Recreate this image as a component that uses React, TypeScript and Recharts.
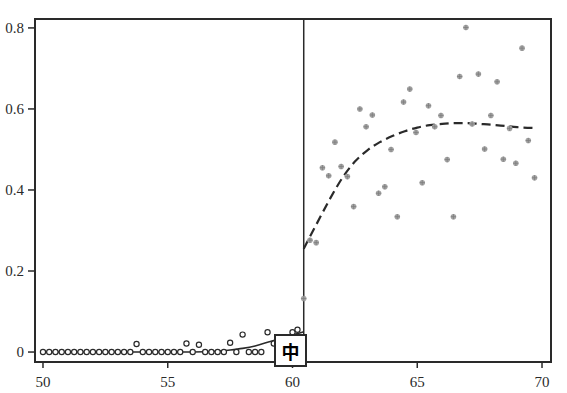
import React from "react";
import {
  ComposedChart, Line, Scatter, XAxis, YAxis, ReferenceLine, ReferenceArea,
} from "recharts";

// left of the cutoff: open circles near zero
const leftX = [
  50, 50.25, 50.5, 50.75, 51, 51.25, 51.5, 51.75, 52, 52.25, 52.5, 52.75, 53, 53.25, 53.5, 53.75,
  54, 54.25, 54.5, 54.75, 55, 55.25, 55.5, 55.75, 56, 56.25, 56.5, 56.75, 57, 57.25, 57.5, 57.75,
  58, 58.25, 58.5, 58.75, 59, 59.25, 59.5, 59.75, 60, 60.2,
];
const leftY = [
  0, 0, 0, 0, 0, 0, 0, 0, 0, 0, 0, 0, 0, 0, 0, 0.02,
  0, 0, 0, 0, 0, 0, 0, 0.021, 0, 0.018, 0, 0, 0, 0, 0.023, 0,
  0.043, 0, 0, 0, 0.049, 0.021, 0, 0, 0.049, 0.055,
];

// right of the cutoff: filled dots
const rightX = [
  60.45, 60.7, 60.95, 61.2, 61.45, 61.7, 61.95, 62.2, 62.45, 62.7, 62.95, 63.2, 63.45, 63.7,
  63.95, 64.2, 64.45, 64.7, 64.95, 65.2, 65.45, 65.7, 65.95, 66.2, 66.45, 66.7, 66.95, 67.2,
  67.45, 67.7, 67.95, 68.2, 68.45, 68.7, 68.95, 69.2, 69.45, 69.7,
];
const rightY = [
  0.132, 0.276, 0.27, 0.455, 0.435, 0.518, 0.458, 0.433, 0.359, 0.6, 0.556, 0.585, 0.392, 0.408,
  0.5, 0.334, 0.617, 0.649, 0.542, 0.418, 0.608, 0.556, 0.584, 0.475, 0.334, 0.68, 0.801, 0.563,
  0.686, 0.501, 0.584, 0.667, 0.476, 0.552, 0.466, 0.75, 0.522, 0.43,
];

// fitted curves
const fitLeftX = [50, 56, 57, 57.5, 58, 58.5, 59, 59.5, 60, 60.45];
const fitLeftY = [0, 0, 0.002, 0.005, 0.009, 0.015, 0.024, 0.033, 0.042, 0.05];
const fitRightX = [60.45, 60.7, 61, 61.5, 62, 62.5, 63, 63.5, 64, 64.5, 65, 65.5, 66, 66.5, 67, 67.5, 68, 68.5, 69, 69.7];
const fitRightY = [0.255, 0.285, 0.32, 0.378, 0.43, 0.47, 0.498, 0.518, 0.533, 0.545, 0.554, 0.56, 0.563, 0.565, 0.565, 0.563, 0.561, 0.558, 0.555, 0.553];

const xTicks = [50, 55, 60, 65, 70];
const yTicks = [0, 0.2, 0.4, 0.6, 0.8];
const cutoff = 60.45;

const zip = (xs: number[], ys: number[]) => xs.map((x, i) => ({ x, y: ys[i] }));
const leftPts = zip(leftX, leftY);
const rightPts = zip(rightX, rightY);
const fitLeft = zip(fitLeftX, fitLeftY);
const fitRight = zip(fitRightX, fitRightY);

const INK = "#2a2a2a";
const tickStyle = { fill: INK, fontSize: 15, fontFamily: "'Liberation Serif', serif" };

// eslint-disable-next-line @typescript-eslint/no-explicit-any
const OpenDot = ({ cx, cy }: any) => (
  <circle cx={cx} cy={cy} r={2.6} fill="#fff" stroke={INK} strokeWidth={1.2} />
);

// eslint-disable-next-line @typescript-eslint/no-explicit-any
const GrayDot = ({ cx, cy }: any) => (
  <g>
    <circle cx={cx} cy={cy} r={2.8} fill="#a4a4a4" />
    <path d={`M${cx - 2.6},${cy}H${cx + 2.6}M${cx},${cy - 2.6}V${cy + 2.6}`} stroke="#7e7e7e" strokeWidth={0.8} />
  </g>
);

export default function App() {
  return (
    <div style={{ position: "absolute", left: 0, top: 0, width: 567, height: 393, background: "#fff" }}>
      <ComposedChart width={567} height={393} margin={{ top: 19, right: 16, bottom: 0, left: 0 }}>
        <XAxis
          type="number" dataKey="x" domain={[49.68, 70.36]} ticks={xTicks}
          allowDataOverflow height={31} tick={tickStyle} tickSize={6} tickMargin={8}
          axisLine={{ stroke: INK, strokeWidth: 2 }} tickLine={{ stroke: INK, strokeWidth: 1.5 }}
        />
        <YAxis
          type="number" dataKey="y" domain={[-0.0246, 0.822]} ticks={yTicks}
          allowDataOverflow width={35} tick={tickStyle} tickSize={7} tickMargin={4}
          tickFormatter={(v: number) => (v === 0 ? "0" : v.toFixed(1))}
          axisLine={{ stroke: INK, strokeWidth: 2 }} tickLine={{ stroke: INK, strokeWidth: 1.5 }}
        />
        <ReferenceArea
          x1={49.68} x2={70.36} y1={-0.0246} y2={0.822}
          fill="none" stroke={INK} strokeWidth={2} ifOverflow="visible"
        />
        <ReferenceLine x={cutoff} stroke={INK} strokeWidth={1.5} />
        <Scatter data={leftPts} dataKey="y" shape={<OpenDot />} isAnimationActive={false} />
        <Scatter data={rightPts} dataKey="y" shape={<GrayDot />} isAnimationActive={false} />
        <Line
          data={fitLeft} dataKey="y" type="monotone" stroke={INK} strokeWidth={1.6}
          dot={false} activeDot={false} isAnimationActive={false}
        />
        <Line
          data={fitRight} dataKey="y" type="monotone" stroke={INK} strokeWidth={2.2}
          strokeDasharray="9 5" dot={false} activeDot={false} isAnimationActive={false}
        />
      </ComposedChart>
      <div
        style={{
          position: "absolute", left: 274, top: 334, width: 29, height: 29,
          border: `2px solid ${INK}`, background: "#fff",
          display: "flex", alignItems: "center", justifyContent: "center",
          fontFamily: "'Noto Sans CJK SC', sans-serif", fontWeight: 700, fontSize: 18, color: "#000",
        }}
      >
        中
      </div>
    </div>
  );
}
